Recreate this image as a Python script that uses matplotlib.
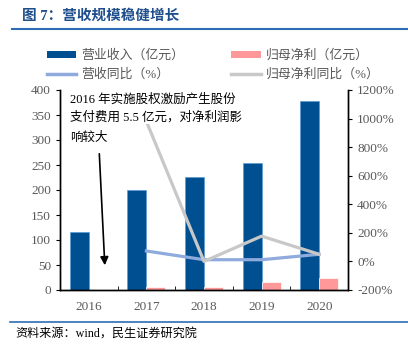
import matplotlib
matplotlib.use('Agg')
import matplotlib.pyplot as plt
from matplotlib.patches import Patch
from matplotlib.lines import Line2D
import numpy as np

plt.rcParams['font.family'] = ['Liberation Serif', 'Noto Sans CJK SC']

years = ['2016', '2017', '2018', '2019', '2020']
revenue = [116, 201, 227, 254, 379]          # 营业收入（亿元）
net_profit = [0.55, 6, 6, 16.6, 25]          # 归母净利（亿元）
revenue_yoy = [None, 73, 12, 12, 50]         # 营收同比（%）
profit_yoy = [None, 980, 0, 177, 50]         # 归母净利同比（%）

left_ticks = [0, 50, 100, 150, 200, 250, 300, 350, 400]
right_ticks = [-200, 0, 200, 400, 600, 800, 1000, 1200]

c_rev = '#004F91'
c_prof = '#FF9999'
c_rev_g = '#8FAADC'
c_prof_g = '#C8C8C8'
c_title = '#1F4E8C'
c_grey = '#595959'

fig = plt.figure(figsize=(4.08, 3.51), dpi=100)
ax = fig.add_axes([60 / 408, 1 - 290 / 351, 288 / 408, 200 / 351])
ax2 = ax.twinx()

x = np.arange(len(years))
w = 0.33
ax.bar(x - w / 2, revenue, w, color=c_rev, edgecolor='#5B9BD5', linewidth=0.5, zorder=2)
ax.bar(x + w / 2, net_profit, w, color=c_prof, edgecolor='white', linewidth=0.5, zorder=2)

xs = x[1:]
ax2.plot(xs, revenue_yoy[1:], color=c_rev_g, lw=2.3, zorder=3)
ax2.plot(xs, profit_yoy[1:], color=c_prof_g, lw=2.3, zorder=3)

ax.set_xlim(-0.5, 4.5)
ax.set_ylim(0, 400)
ax2.set_ylim(-200, 1200)
ax.set_yticks(left_ticks)
ax2.set_yticks(right_ticks)
ax2.set_yticklabels([f'{t}%' for t in right_ticks])
ax.set_xticks(x)
ax.set_xticklabels(years)
ax.set_xticks(np.arange(0.5, 4.5, 1), minor=True)
ax.tick_params(axis='x', which='major', length=0, pad=8, labelsize=9.5, labelcolor=c_grey)
ax.tick_params(axis='x', which='minor', length=3, direction='in')
ax.tick_params(axis='y', length=3, labelsize=9.5, labelcolor=c_grey)
ax2.tick_params(axis='y', length=3, labelsize=9.5, labelcolor=c_grey)
for a in (ax, ax2):
    a.spines['top'].set_visible(False)
    for s in ('left', 'right', 'bottom'):
        a.spines[s].set_linewidth(1.0)

# annotation: first two lines boxed (they hide the grey line), third line separate
note_box = dict(facecolor='white', edgecolor='none', pad=0.2)
ax2.text(-0.33, 392, '2016 年实施股权激励产生股份\n支付费用 5.5 亿元，对净利润影',
         transform=ax.transData, fontsize=9, va='top', ha='left', linespacing=1.5,
         bbox=note_box, zorder=5)
ax2.text(-0.33, 392 - 2 * 38, '响较大',
         transform=ax.transData, fontsize=9, va='top', ha='left', zorder=5)
ax2.annotate('', xy=(0.28, 44), xytext=(0.18, 278), xycoords=ax.transData,
             textcoords=ax.transData,
             arrowprops=dict(arrowstyle='-|>', color='black', lw=1.2, mutation_scale=12), zorder=6)

handles = [Patch(facecolor=c_rev), Line2D([], [], color=c_rev_g, lw=2.5),
           Patch(facecolor=c_prof), Line2D([], [], color=c_prof_g, lw=2.5)]
labels = ['营业收入（亿元）', '营收同比（%）', '归母净利（亿元）', '归母净利同比（%）']
leg = fig.legend(handles, labels, ncol=2, loc='upper left', bbox_to_anchor=(35 / 408, 1 - 38 / 351),
                 frameon=False, fontsize=9.3, handlelength=2.3, handleheight=0.45,
                 columnspacing=3.6, labelspacing=0.5, handletextpad=0.4)
for t in leg.get_texts():
    t.set_color(c_grey)

fig.text(22 / 408, 1 - 16 / 351, '图 7：营收规模稳健增长', fontsize=10.5, fontweight='bold',
         color=c_title, va='center', ha='left')
fig.add_artist(Line2D([12 / 408, 1], [1 - 29 / 351] * 2, color='#2E6DB4', lw=1.5))
fig.add_artist(Line2D([10 / 408, 1], [1 - 322 / 351] * 2, color='#2E6DB4', lw=1.2))
fig.text(15 / 408, 1 - 335 / 351, '资料来源：wind，民生证券研究院', fontsize=8.7, color='black',
         va='center', ha='left')

fig.savefig('out.png', dpi=100)
